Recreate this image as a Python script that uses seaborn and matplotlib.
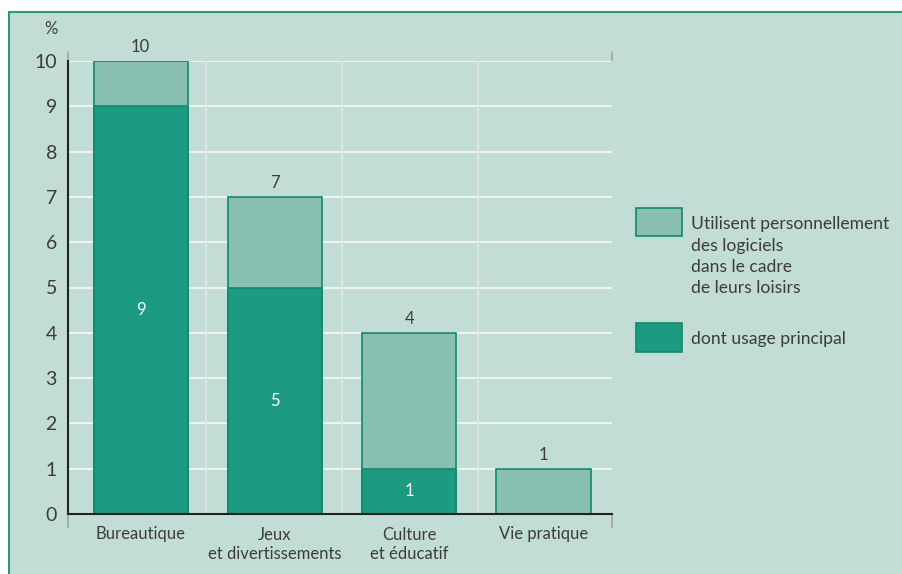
import matplotlib
matplotlib.use("Agg")
import matplotlib.pyplot as plt
from matplotlib.patches import Rectangle
from matplotlib.lines import Line2D
import seaborn as sns
import pandas as pd

categories = ["Bureautique", "Jeux\net divertissements", "Culture\net éducatif", "Vie pratique"]
total = [10, 7, 4, 1]
principal = [9, 5, 1, 0]
yticks = [0, 1, 2, 3, 4, 5, 6, 7, 8, 9, 10]
legend_labels = ["Utilisent personnellement\ndes logiciels\ndans le cadre\nde leurs loisirs", "dont usage principal"]

BG = "#c2ddd5"
LIGHT = "#88bfb0"
DARK = "#1d9a82"
EDGE = "#0f8a6c"
TXT = "#3c3c3c"

sns.set_theme(style="white")
plt.rcParams["font.family"] = ["Lato", "DejaVu Sans"]

W, H = 902, 574
fig = plt.figure(figsize=(W / 100, H / 100), dpi=100)
fig.patch.set_facecolor("white")

def fx(px):
    return px / W

def fy(py):
    return 1 - py / H

# background panel
fig.patches.append(Rectangle((fx(9), 0), 1 - fx(9), fy(12), transform=fig.transFigure,
                             facecolor=BG, edgecolor="none", zorder=-5))
fig.lines.append(Line2D([fx(9), 1], [fy(12), fy(12)], transform=fig.transFigure, color="#2a9a7a", lw=1.5))
fig.lines.append(Line2D([fx(9), fx(9)], [0, fy(12)], transform=fig.transFigure, color="#2a9a7a", lw=1.5))

ax = fig.add_axes([fx(68), fy(514), fx(612) - fx(68), fy(61) - fy(514)])
ax.set_zorder(3)
ax.patch.set_alpha(0)

df = pd.DataFrame({"cat": categories, "total": total, "principal": principal})

sns.barplot(data=df, x="cat", y="total", color=LIGHT, width=0.70, edgecolor=EDGE,
            linewidth=1.2, saturation=1, ax=ax, zorder=3)
sns.barplot(data=df, x="cat", y="principal", color=DARK, width=0.70, edgecolor=EDGE,
            linewidth=1.2, saturation=1, ax=ax, zorder=4)

ax.set_xlim(-0.54, 3.51)
ax.set_ylim(0, 10)
ax.set_yticks(yticks)
ax.set_yticklabels([str(t) for t in yticks])
ax.set_xlabel("")
ax.set_ylabel("")

# grid
for t in yticks[1:]:
    ax.axhline(t, color="#f4f6f5", lw=1.3, zorder=1)
for xv in [0.49, 1.5, 2.51]:
    ax.axvline(xv, color="#e2e6e4", lw=1.3, zorder=1)

for s in ["top", "right"]:
    ax.spines[s].set_visible(False)
for s in ["left", "bottom"]:
    ax.spines[s].set_color("#222222")
    ax.spines[s].set_linewidth(1.5)
    ax.spines[s].set_zorder(6)

ax.tick_params(axis="y", length=0, labelsize=14, labelcolor=TXT, pad=8)
ax.tick_params(axis="x", length=0, labelsize=12, labelcolor=TXT, pad=9)
for lab in ax.get_xticklabels():
    lab.set_linespacing(1.3)
    lab.set_verticalalignment("top")

# value labels
for i, (t, p) in enumerate(zip(total, principal)):
    ax.text(i, t + 0.19, str(t), ha="center", va="baseline", fontsize=12, color=TXT)
    if p > 0:
        ax.text(i, p / 2, str(p), ha="center", va="center", fontsize=12, color="white", zorder=7)

# decorative axis extensions
for x in [68, 612]:
    fig.lines.append(Line2D([fx(x), fx(x)], [fy(52), fy(61)], transform=fig.transFigure, color="#9aa8a4", lw=1.2))
    fig.lines.append(Line2D([fx(x), fx(x)], [fy(514), fy(527)], transform=fig.transFigure, color="#9aa8a4", lw=1.2))

fig.text(fx(51), fy(29.5), "%", ha="center", va="center", fontsize=12, color=TXT)

# legend
for (py, base, col, lab) in [(207.5, 229.5, LIGHT, legend_labels[0]), (323, 344, DARK, legend_labels[1])]:
    fig.patches.append(Rectangle((fx(636), fy(py + 28.5)), fx(682) - fx(636), fy(py) - fy(py + 28.5),
                                 transform=fig.transFigure, facecolor=col, edgecolor=EDGE, lw=1.2))
    for k, line in enumerate(lab.split("\n")):
        fig.text(fx(691), fy(base + k * 21.3), line, ha="left", va="baseline", fontsize=12.6, color=TXT)

fig.savefig("out.png", dpi=100, facecolor=fig.get_facecolor())
